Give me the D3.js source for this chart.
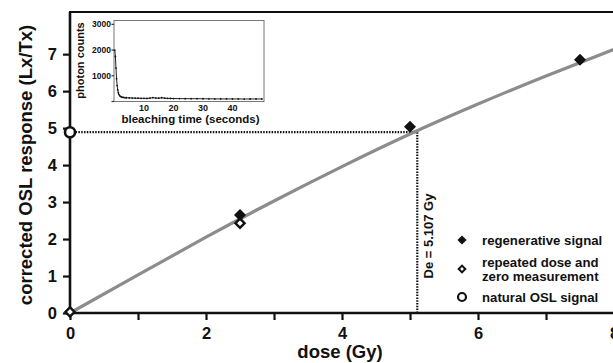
<!DOCTYPE html>
<html>
<head>
<meta charset="utf-8">
<script src="https://cdn.jsdelivr.net/npm/d3@7"></script>
<style>
  body { margin: 0; background: #fff; }
  text { font-family: "Liberation Sans", Arial, sans-serif; font-weight: bold; fill: #111; }
</style>
</head>
<body>
<div id="chart"></div>
<script>
// dose response curve
var curveDose = [0, 1, 2, 3, 4, 5, 6, 7, 8];
var curveResp = [0, 1.03, 2.05, 3.03, 3.96, 4.84, 5.65, 6.41, 7.13];

var regenDose = [2.5, 5, 7.5];
var regenResp = [2.65, 5.04, 6.85];
var repeatDose = [0, 2.5];
var repeatResp = [0.03, 2.43];
var naturalDose = [0];
var naturalResp = [4.89];
var deValue = 5.107;

var doseTicks = [0, 1, 2, 3, 4, 5, 6, 7, 8];
var respTicks = [0, 1, 2, 3, 4, 5, 6, 7];

// inset: shine-down curve
var bleachTime = [0.1, 0.3, 0.5, 0.7, 0.9, 1.1, 1.3, 1.5, 1.8, 2.1, 2.5, 3, 3.5, 4, 5, 6, 7, 8, 9, 10,
                  11, 12, 13, 14, 15, 16, 17, 18, 19, 20, 22, 24, 26, 28, 30, 32, 34, 36, 38, 40,
                  42, 44, 46, 48, 50];
var photonCounts = [2000, 1750, 1300, 880, 620, 450, 340, 270, 220, 190, 170, 160, 150, 145, 140, 135, 130, 128, 125, 122,
                    120, 130, 150, 135, 128, 145, 130, 122, 118, 115, 112, 110, 108, 110, 106, 104, 102, 100, 100, 98,
                    100, 96, 98, 100, 97];
var insetXTicks = [10, 20, 30, 40];
var insetYTicks = [0, 1000, 2000, 3000];

var legendItems = ["regenerative signal", ["repeated dose and", "zero measurement"], "natural OSL signal"];

(function () {
  var width = 613, height = 363;
  var svg = d3.select("#chart").append("svg")
    .attr("width", width).attr("height", height);

  var x = d3.scaleLinear().domain([0, 8]).range([70, 614]);
  var y = d3.scaleLinear().domain([0, 8.14]).range([313, 12]);

  // frame: top line, left axis, bottom axis
  svg.append("line").attr("x1", 69).attr("x2", width).attr("y1", 12).attr("y2", 12)
    .attr("stroke", "#111").attr("stroke-width", 2.2);

  var yAxis = svg.append("g").attr("transform", "translate(70,0)")
    .call(d3.axisLeft(y).tickValues(respTicks).tickSize(7).tickPadding(6).tickFormat(d3.format("d")));
  yAxis.select(".domain").attr("d", "M0," + y(8.14) + "V" + y(0)).attr("stroke", "#111").attr("stroke-width", 2.6);
  yAxis.selectAll(".tick line").attr("stroke", "#111").attr("stroke-width", 2.2);
  yAxis.selectAll(".tick text").attr("font-size", 16.5).attr("fill", "#111")
    .attr("font-family", "Liberation Sans, Arial, sans-serif").attr("font-weight", "bold");

  var xAxis = svg.append("g").attr("transform", "translate(0,313)")
    .call(d3.axisBottom(x).tickValues(doseTicks).tickSize(7).tickPadding(7)
      .tickFormat(function (d) { return d % 2 === 0 ? d : ""; }));
  xAxis.select(".domain").attr("d", "M" + x(0) + ",0H" + width).attr("stroke", "#111").attr("stroke-width", 2.6);
  xAxis.selectAll(".tick line").attr("stroke", "#111").attr("stroke-width", 2.2);
  xAxis.selectAll(".tick text").attr("font-size", 16.5).attr("fill", "#111")
    .attr("font-family", "Liberation Sans, Arial, sans-serif").attr("font-weight", "bold");

  // axis titles
  svg.append("text").attr("x", 340).attr("y", 358).attr("text-anchor", "middle")
    .attr("font-size", 18.5).text("dose (Gy)");
  svg.append("text").attr("transform", "translate(32,165) rotate(-90)").attr("text-anchor", "middle")
    .attr("font-size", 18.5).text("corrected OSL response (Lx/Tx)");

  // De dotted lines
  svg.append("line").attr("x1", x(0)).attr("x2", x(deValue))
    .attr("y1", y(naturalResp[0])).attr("y2", y(naturalResp[0]))
    .attr("stroke", "#111").attr("stroke-width", 2.2).attr("stroke-dasharray", "1.5,1.3");
  svg.append("line").attr("x1", x(deValue)).attr("x2", x(deValue))
    .attr("y1", y(naturalResp[0])).attr("y2", y(0))
    .attr("stroke", "#111").attr("stroke-width", 2.2).attr("stroke-dasharray", "1.5,1.3");
  svg.append("text").attr("transform", "translate(" + (x(deValue) + 16) + ",236) rotate(-90)")
    .attr("text-anchor", "middle").attr("font-size", 13).text("De = " + deValue + " Gy");

  // fitted curve
  var curvePts = curveDose.map(function (d, i) { return [d, curveResp[i]]; });
  svg.append("path").datum(curvePts)
    .attr("d", d3.line().x(function (d) { return x(d[0]); }).y(function (d) { return y(d[1]); })
      .curve(d3.curveNatural))
    .attr("fill", "none").attr("stroke", "#8c8c8c").attr("stroke-width", 3.2);

  var diamond = d3.symbol().type(d3.symbolSquare);

  // repeated / zero (hollow diamonds)
  svg.selectAll(".repeat").data(repeatDose).enter().append("path")
    .attr("class", "repeat")
    .attr("transform", function (d, i) { return "translate(" + x(d) + "," + y(repeatResp[i]) + ") rotate(45)"; })
    .attr("d", diamond.size(42)())
    .attr("fill", "#fff").attr("stroke", "#111").attr("stroke-width", 2.4);

  // regenerative (filled diamonds)
  svg.selectAll(".regen").data(regenDose).enter().append("path")
    .attr("class", "regen")
    .attr("transform", function (d, i) { return "translate(" + x(d) + "," + y(regenResp[i]) + ") rotate(45)"; })
    .attr("d", diamond.size(72)())
    .attr("fill", "#111");

  // natural (open circle)
  svg.selectAll(".natural").data(naturalDose).enter().append("circle")
    .attr("class", "natural")
    .attr("cx", function (d) { return x(d); })
    .attr("cy", function (d, i) { return y(naturalResp[i]); })
    .attr("r", 5).attr("fill", "#fff").attr("stroke", "#111").attr("stroke-width", 2.6);

  // legend
  var legY = [240, 269, 297];
  var lg = svg.append("g");
  lg.append("path").attr("transform", "translate(462," + legY[0] + ") rotate(45)")
    .attr("d", diamond.size(42)()).attr("fill", "#111");
  lg.append("path").attr("transform", "translate(462," + legY[1] + ") rotate(45)")
    .attr("d", diamond.size(22)()).attr("fill", "#fff").attr("stroke", "#111").attr("stroke-width", 2);
  lg.append("circle").attr("cx", 462).attr("cy", legY[2]).attr("r", 4)
    .attr("fill", "#fff").attr("stroke", "#111").attr("stroke-width", 2.2);
  legendItems.forEach(function (item, i) {
    var lines = Array.isArray(item) ? item : [item];
    lines.forEach(function (s, j) {
      lg.append("text").attr("x", 482).attr("font-size", 13.2)
        .attr("y", legY[i] + 4.6 + (j - (lines.length - 1) / 2) * 13.8)
        .text(s);
    });
  });

  // inset
  var ix = d3.scaleLinear().domain([0, 50.7]).range([114.5, 264]);
  var iy = d3.scaleLinear().domain([0, 3150]).range([101.5, 20.5]);
  var inset = svg.append("g");
  inset.append("rect").attr("x", 114).attr("y", 20.5).attr("width", 150).attr("height", 81)
    .attr("fill", "#fff").attr("stroke", "#777").attr("stroke-width", 1);

  inset.selectAll(".iyt").data(insetYTicks).enter().append("line")
    .attr("x1", 111.5).attr("x2", 114).attr("y1", function (d) { return iy(d); }).attr("y2", function (d) { return iy(d); })
    .attr("stroke", "#333").attr("stroke-width", 1.2);
  inset.selectAll(".iyl").data(insetYTicks.filter(function (d) { return d > 0; })).enter().append("text")
    .attr("x", 111).attr("y", function (d) { return iy(d) + 3; }).attr("text-anchor", "end")
    .attr("font-size", 8.5).text(function (d) { return d; });
  inset.selectAll(".ixl").data(insetXTicks).enter().append("text")
    .attr("x", function (d) { return ix(d); }).attr("y", 110.5).attr("text-anchor", "middle")
    .attr("font-size", 9).text(function (d) { return d; });

  var decay = bleachTime.map(function (t, i) { return [t, photonCounts[i]]; });
  inset.append("path").datum(decay)
    .attr("d", d3.line().x(function (d) { return ix(d[0]); }).y(function (d) { return iy(d[1]); }))
    .attr("fill", "none").attr("stroke", "#222").attr("stroke-width", 1);
  inset.selectAll(".dot").data(decay).enter().append("circle")
    .attr("cx", function (d) { return ix(d[0]); }).attr("cy", function (d) { return iy(d[1]); })
    .attr("r", 0.9).attr("fill", "#111");

  inset.append("text").attr("x", 190.5).attr("y", 122.5).attr("text-anchor", "middle")
    .attr("font-size", 11.5).text("bleaching time (seconds)");
  inset.append("text").attr("transform", "translate(84,60.5) rotate(-90)").attr("text-anchor", "middle")
    .attr("font-size", 11).text("photon counts");
})();
</script>
</body>
</html>
